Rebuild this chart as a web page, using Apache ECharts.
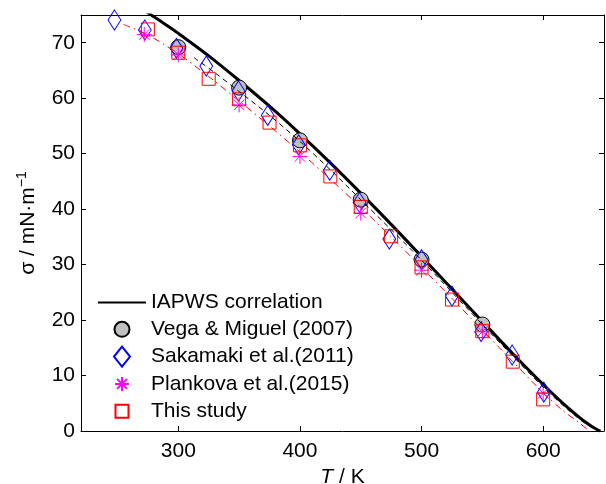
<!DOCTYPE html>
<html>
<head>
<meta charset="utf-8">
<script src="https://cdn.jsdelivr.net/npm/echarts@6/dist/echarts.min.js"></script>
<style>html,body{margin:0;padding:0;background:#fff}#c{width:606px;height:484px}</style>
</head>
<body>
<div id="c"></div>
<script>
// Axis ticks
const xTicks = [300, 400, 500, 600];
const yTicks = [0, 10, 20, 30, 40, 50, 60, 70];

// IAPWS correlation (solid black)
const iapwsT = [273.15, 280, 290, 300, 325, 350, 375, 400, 425, 450, 475, 500, 525, 550, 575, 600, 610, 620, 630, 635, 640, 645, 647.1];
const iapwsS = [75.65, 74.68, 73.21, 71.69, 67.63, 63.19, 58.55, 53.58, 48.35, 42.89, 37.25, 31.47, 25.61, 19.73, 13.94, 8.38, 6.27, 4.27, 2.42, 1.57, 0.81, 0.18, 0];

// Vega & Miguel (2007)
const vegaT = [300, 350, 400, 450, 500, 550];
const vegaS = [69.2, 61.9, 52.4, 41.7, 30.9, 19.2];

// Sakamaki et al. (2011)
const sakT = [247.5, 272.5, 298.5, 323, 349.5, 373.5, 399, 424.5, 449, 473.5, 500, 525, 549, 574.5, 600.5];
const sakS = [74.1, 72.3, 69.0, 65.8, 61.3, 56.9, 51.6, 47.0, 41.2, 34.6, 30.9, 24.3, 17.9, 13.7, 7.0];

// Plankova et al. (2015)
const plaT = [272, 300, 350, 400, 450, 500, 550, 600];
const plaS = [71.5, 67.8, 58.8, 49.5, 39.3, 29.0, 17.9, 6.8];

// This study
const thisT = [275, 300, 325, 350, 375, 400, 425, 450, 475, 500, 525, 550, 575, 600];
const thisS = [72.4, 68.2, 63.5, 59.8, 55.6, 51.5, 45.9, 40.4, 35.1, 29.5, 23.7, 18.0, 12.5, 5.7];

// Fit through "This study" (red dash-dot)
const fitRedT = [255, 275, 300, 325, 350, 375, 400, 425, 450, 475, 500, 525, 550, 575, 600, 615, 630, 638];
const fitRedS = [73.3, 71.4, 68.0, 63.9, 59.5, 55.0, 50.3, 45.4, 40.3, 35.0, 29.5, 23.9, 18.2, 12.5, 6.9, 3.9, 1.4, 0];

// Fit through Vega & Miguel (black dashed)
const fitBlkT = [313, 330, 350, 375, 400, 425, 450, 475, 500, 525, 550, 575, 600, 620, 635, 645];
const fitBlkS = [67.3, 64.6, 61.2, 56.9, 52.2, 47.1, 41.7, 36.3, 30.8, 25.0, 19.2, 13.5, 7.9, 3.9, 1.3, 0];

const zip = (a, b) => a.map((v, i) => [v, b[i]]);
const FONT = 'Liberation Sans';
const asterisk = 'path://M0,-10L0,10M-10,0L10,0M-7.07,-7.07L7.07,7.07M-7.07,7.07L7.07,-7.07';
const diamondPath = 'path://M0,-10L8,0L0,10L-8,0Z';
// legend icons (with invisible padding points so they keep their size)
const pad = 'M-10,-10L-10,-10M10,10L10,10';
const iconCircle = 'path://' + pad + 'M7.5,0A7.5,7.5,0,1,1,-7.5,0A7.5,7.5,0,1,1,7.5,0Z';
const iconDiamond = 'path://M0,-10L8,0L0,10L-8,0Z';
const iconStar = 'path://' + pad + 'M0,-7L0,7M-7,0L7,0M-5,-5L5,5M-5,5L5,-5';
const iconSquare = 'path://' + pad + 'M-6.5,-6.5L6.5,-6.5L6.5,6.5L-6.5,6.5Z';

const baseX = {
  type: 'value', min: 220, max: 650,
  axisLine: {show: true, onZero: false, lineStyle: {color: '#000', width: 1}},
  axisTick: {show: true, inside: true, length: 5, lineStyle: {color: '#000'}, customValues: xTicks},
  splitLine: {show: false}
};
const baseY = {
  type: 'value', min: 0, max: 75,
  axisLine: {show: true, onZero: false, lineStyle: {color: '#000', width: 1}},
  axisTick: {show: true, inside: true, length: 5, lineStyle: {color: '#000'}, customValues: yTicks},
  splitLine: {show: false}
};

const chart = echarts.init(document.getElementById('c'), null, {renderer: 'canvas'});
chart.setOption({
  animation: false,
  backgroundColor: '#fff',
  textStyle: {fontFamily: FONT, color: '#000'},
  grid: {left: 81, top: 15, right: 2, bottom: 53, containLabel: false, outerBoundsMode: 'none'},
  xAxis: [
    Object.assign({}, baseX, {
      position: 'bottom',
      axisLabel: {show: true, customValues: xTicks, fontSize: 21, color: '#000', fontFamily: FONT, margin: 10},
      name: '{i|T} / K',
      nameLocation: 'middle', nameGap: 33,
      nameTextStyle: {fontSize: 21, color: '#000', fontFamily: FONT,
        rich: {i: {fontSize: 21, fontStyle: 'italic', fontFamily: FONT, color: '#000'}}}
    }),
    Object.assign({}, baseX, {position: 'top', axisLabel: {show: false}})
  ],
  yAxis: [
    Object.assign({}, baseY, {
      position: 'left',
      axisLabel: {show: true, customValues: yTicks, fontSize: 21, color: '#000', fontFamily: FONT, margin: 6},
      name: 'σ / mN·m{s|−1}',
      nameLocation: 'middle', nameGap: 40, nameRotate: 90,
      nameTextStyle: {fontSize: 21, color: '#000', fontFamily: FONT,
        rich: {s: {fontSize: 14, fontFamily: FONT, color: '#000', padding: [0, 0, 12, 0]}}}
    }),
    Object.assign({}, baseY, {position: 'right', axisLabel: {show: false}})
  ],
  legend: {
    show: true, orient: 'vertical', left: 97, top: 292, padding: 0,
    itemWidth: 48, itemHeight: 20, itemGap: 5.3, symbolKeepAspect: true,
    textStyle: {fontSize: 21, color: '#000', fontFamily: FONT},
    data: [
      {name: 'IAPWS correlation', itemStyle: {opacity: 0}},
      {name: 'Vega & Miguel (2007)', icon: iconCircle},
      {name: 'Sakamaki et al.(2011)', icon: iconDiamond},
      {name: 'Plankova et al.(2015)', icon: iconStar},
      {name: 'This study', icon: iconSquare}
    ]
  },
  series: [
    {
      name: 'IAPWS correlation', type: 'line', data: zip(iapwsT, iapwsS),
      showSymbol: false, symbol: 'none', smooth: 0.3, clip: true,
      lineStyle: {color: '#000', width: 3}, itemStyle: {color: '#000'}, z: 2
    },
    {
      name: 'Vega & Miguel (2007)', type: 'scatter', data: zip(vegaT, vegaS),
      symbol: 'circle', symbolSize: 15,
      itemStyle: {color: '#c0c0c0', borderColor: '#000', borderWidth: 1, opacity: 1}, z: 3
    },
    {
      name: 'Sakamaki et al.(2011)', type: 'scatter', data: zip(sakT, sakS),
      symbol: diamondPath, symbolSize: [16, 20], symbolKeepAspect: true,
      itemStyle: {color: 'rgba(0,0,0,0)', borderColor: '#0000ff', borderWidth: 1, opacity: 1}, z: 4
    },
    {
      name: 'Plankova et al.(2015)', type: 'scatter', data: zip(plaT, plaS),
      symbol: asterisk, symbolSize: 15,
      itemStyle: {color: '#ff00ff', borderColor: '#ff00ff', borderWidth: 1, opacity: 1}, z: 5
    },
    {
      name: 'This study', type: 'scatter', data: zip(thisT, thisS),
      symbol: 'rect', symbolSize: 13,
      itemStyle: {color: 'rgba(0,0,0,0)', borderColor: '#ff0000', borderWidth: 1, opacity: 1}, z: 6
    },
    {
      name: 'fitRed', type: 'line', data: zip(fitRedT, fitRedS),
      showSymbol: false, symbol: 'none', smooth: 0.3, clip: true,
      lineStyle: {color: '#ff0000', width: 1, type: [7, 4, 1.5, 4]}, z: 7
    },
    {
      name: 'fitBlack', type: 'line', data: zip(fitBlkT, fitBlkS),
      showSymbol: false, symbol: 'none', smooth: 0.3, clip: true,
      lineStyle: {color: '#000', width: 1, type: [5, 4]}, z: 7
    }
  ]
});
</script>
</body>
</html>
